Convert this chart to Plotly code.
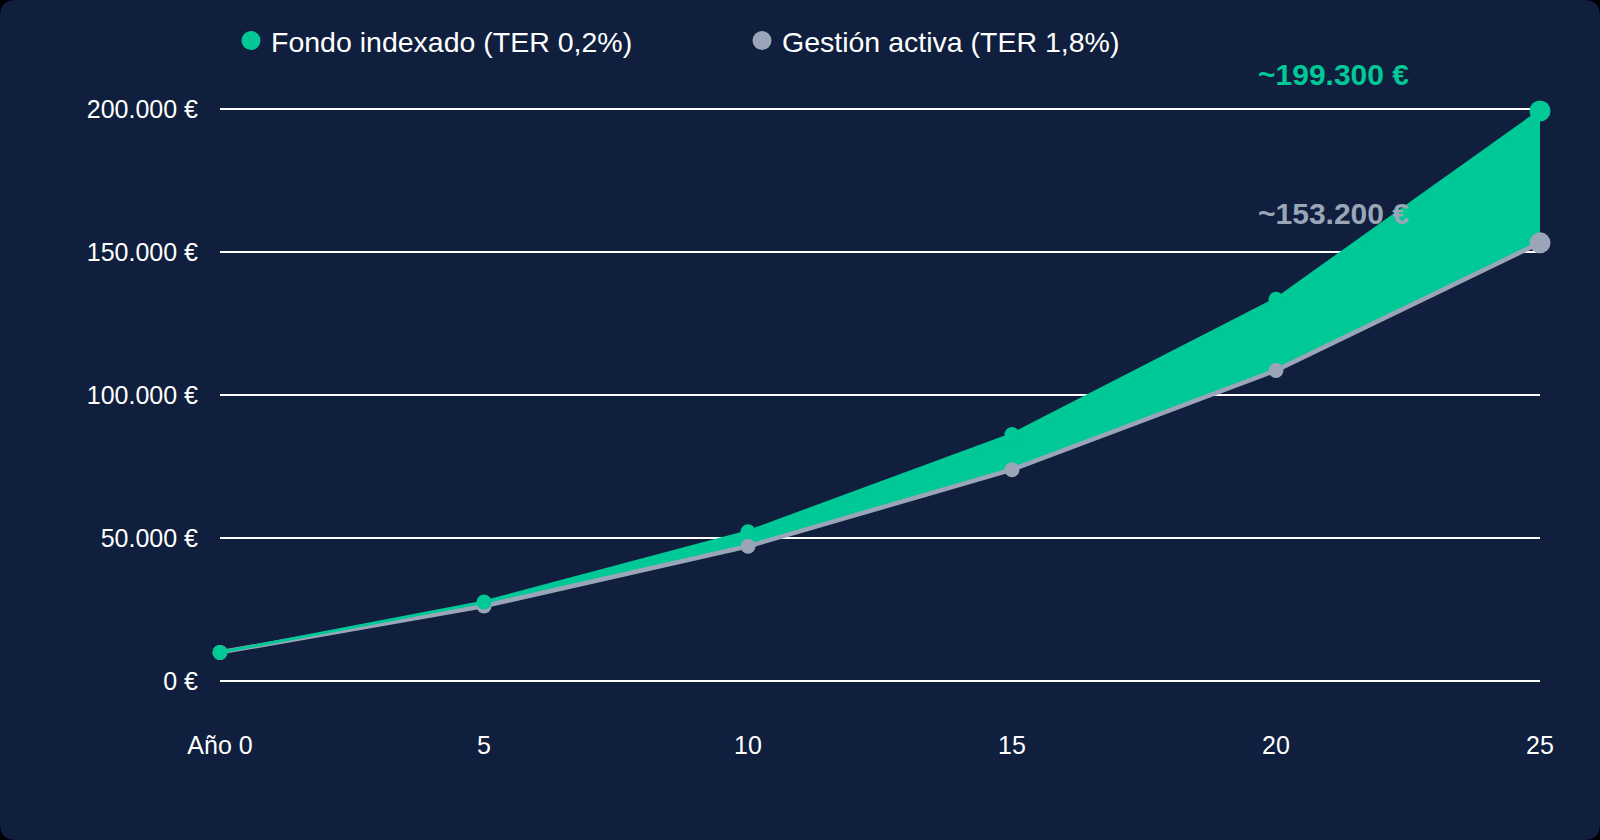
import plotly.graph_objects as go

# Valores (cartera en euros por año)
years = [0, 5, 10, 15, 20, 25]
year_labels = ['Año 0', '5', '10', '15', '20', '25']
indexado = [10000, 27600, 52200, 86200, 133500, 199300]
activa = [10000, 26200, 47100, 73900, 108600, 153200]
y_ticks = [0, 50000, 100000, 150000, 200000]
y_labels = ['0 €', '50.000 €', '100.000 €', '150.000 €', '200.000 €']

name_idx = 'Fondo indexado (TER 0,2%)'
name_act = 'Gestión activa (TER 1,8%)'
label_idx = '~199.300 €'
label_act = '~153.200 €'

GREEN = '#00C896'
GREY = '#9AA5B8'
NAVY = '#0F1F3D'
FONT = 'Liberation Sans, Arial, sans-serif'

marker_sizes = [15] * (len(years) - 1) + [21]

fig = go.Figure()

# gestión activa primero, para que el relleno del indexado quede entre ambas
fig.add_trace(go.Scatter(x=years, y=activa, mode='lines+markers', name=name_act,
                         line=dict(color=GREY, width=4.5),
                         marker=dict(color=GREY, size=marker_sizes, line=dict(width=0), opacity=1),
                         showlegend=False, cliponaxis=False))
fig.add_trace(go.Scatter(x=years, y=indexado, mode='lines+markers', name=name_idx,
                         fill='tonexty', fillcolor=GREEN,
                         line=dict(color=GREEN, width=3),
                         marker=dict(color=GREEN, size=marker_sizes, line=dict(width=0), opacity=1),
                         showlegend=False, cliponaxis=False))

# entradas de leyenda (solo un círculo)
fig.add_trace(go.Scatter(x=[None], y=[None], mode='markers', name=name_idx,
                         marker=dict(color=GREEN, size=16, line=dict(color=GREEN, width=3))))
fig.add_trace(go.Scatter(x=[None], y=[None], mode='markers', name=name_act,
                         marker=dict(color=GREY, size=16, line=dict(color=GREY, width=3))))

# etiquetas del valor final
fig.add_annotation(x=years[-1], y=indexado[-1], text='<b>' + label_idx + '</b>',
                   showarrow=False, xshift=-207, yshift=37,
                   font=dict(color=GREEN, size=30, family=FONT))
fig.add_annotation(x=years[-1], y=activa[-1], text='<b>' + label_act + '</b>',
                   showarrow=False, xshift=-207, yshift=29,
                   font=dict(color=GREY, size=30, family=FONT))

# márgenes y rango (un poco de holgura para que se vean las líneas de 0 y 200.000)
ML, MR, MT, MB = 220, 60, 104, 154
PW, PH = 1600 - ML - MR, 840 - MT - MB

# fondo con esquinas redondeadas
x0, x1 = -ML / PW, 1 + MR / PW
y0, y1 = -MB / PH, 1 + MT / PH
rx, ry = 16 / PW, 16 / PH
path = (f'M {x0 + rx} {y1} L {x1 - rx} {y1} Q {x1} {y1} {x1} {y1 - ry} '
        f'L {x1} {y0 + ry} Q {x1} {y0} {x1 - rx} {y0} L {x0 + rx} {y0} '
        f'Q {x0} {y0} {x0} {y0 + ry} L {x0} {y1 - ry} Q {x0} {y1} {x0 + rx} {y1} Z')
fig.add_shape(type='path', path=path, xref='paper', yref='paper',
              fillcolor=NAVY, line_width=0, layer='below')

fig.update_layout(
    width=1600, height=840,
    margin=dict(l=ML, r=MR, t=MT, b=MB),
    paper_bgcolor='black', plot_bgcolor='rgba(0,0,0,0)',
    font=dict(family=FONT, color='white', size=25),
    legend=dict(orientation='h', xref='container', yref='container', traceorder='normal',
                x=231 / 1600, y=1 - 41 / 840, xanchor='left', yanchor='middle',
                font=dict(size=28.5, color='white'), entrywidth=466,
                bgcolor='rgba(0,0,0,0)'),
    xaxis=dict(range=[0, 25], tickvals=years, ticktext=year_labels,
               showgrid=False, zeroline=False, showline=False,
               ticks='outside', ticklen=37, tickcolor='rgba(0,0,0,0)'),
    yaxis=dict(range=[-1750, 201750], tickvals=y_ticks, ticktext=y_labels,
               showgrid=True, gridcolor='white', gridwidth=2,
               zeroline=False, showline=False,
               ticks='outside', ticklen=16, tickcolor='rgba(0,0,0,0)'),
    hovermode=False,
)

fig.write_html('out.html', config={'displayModeBar': False},
               post_script="document.body.style.margin='0';document.body.style.background='black';")
